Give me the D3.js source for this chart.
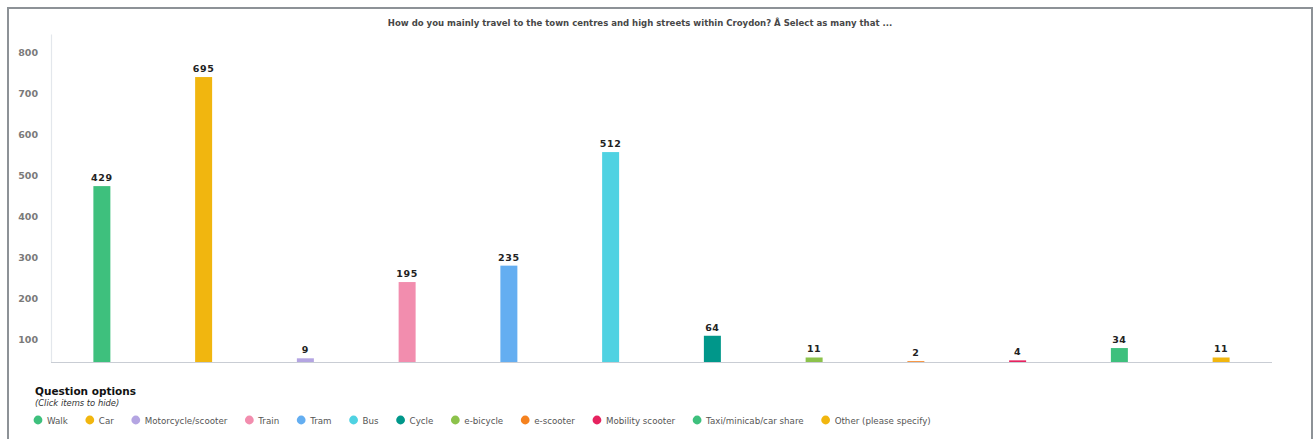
<!DOCTYPE html>
<html><head><meta charset="utf-8">
<script src="https://cdn.jsdelivr.net/npm/d3@7"></script>
<style>body{margin:0;background:#fff}svg{display:block}</style>
</head><body>
<svg id="chart" width="1316" height="439"></svg>
<script>
const categories = ["Walk","Car","Motorcycle/scooter","Train","Tram","Bus","Cycle","e-bicycle","e-scooter","Mobility scooter","Taxi/minicab/car share","Other (please specify)"];
const values = [429,695,9,195,235,512,64,11,2,4,34,11];
const colors = ["#3ec07d","#f1b60f","#b4a5e2","#f28dae","#64aef1","#4fd2e2","#00978a","#8cc24b","#f5821f","#e6235f","#3ec07d","#f1b60f"];
const yTicks = [100,200,300,400,500,600,700,800];
const titleText = "How do you mainly travel to the town centres and high streets within Croydon? \u00C2 Select as many that ...";
const legendTitle = "Question options";
const legendSubtitle = "(Click items to hide)";
// the reference's axis labels sit offset from the bar baseline
const axisOffset = 44;

const svg = d3.select("#chart");
const W = 1316, H = 439;
const plot = {left: 51, right: 1272, top: 34, bottom: 362};

// frame
svg.append("path")
  .attr("d", `M8,${H} L8,8 L1312,8 L1312,${H}`)
  .attr("fill","none").attr("stroke","#8d9297").attr("stroke-width",2);

// title
const title = svg.append("text")
  .attr("x", 640).attr("y", 26).attr("text-anchor","middle")
  .attr("font-family","'DejaVu Sans Condensed','DejaVu Sans',sans-serif")
  .attr("font-weight","bold").attr("font-size",10).attr("fill","#474747")
  .text(titleText);
const tl = title.node().getComputedTextLength();
title.attr("font-size", 10 * 505 / tl);

const x = d3.scaleBand().domain(categories).range([plot.left, plot.right]).paddingInner(0.833).paddingOuter(0.4165);
const y = d3.scaleLinear().domain([0, 800]).range([plot.bottom, plot.top]);
const yAxisScale = d3.scaleLinear().domain([axisOffset, 800 + axisOffset]).range([plot.bottom, plot.top]);

// y axis
const gy = svg.append("g").attr("transform", `translate(${plot.left},0)`)
  .call(d3.axisLeft(yAxisScale).tickValues(yTicks).tickSize(0).tickPadding(13));
gy.select(".domain").attr("stroke","#e3e7ec").attr("stroke-width",1.2);
gy.selectAll("text").attr("font-family","'DejaVu Sans',sans-serif").attr("font-weight","bold")
  .attr("font-size",9.5).attr("fill","#7a7a7a");

// baseline
svg.append("line").attr("x1",plot.left).attr("x2",plot.right)
  .attr("y1",plot.bottom+0.5).attr("y2",plot.bottom+0.5)
  .attr("stroke","#c9cdd4").attr("stroke-width",1.2);

const data = categories.map((c,i)=>({c, v: values[i], col: colors[i]}));

svg.append("g").selectAll("rect").data(data).join("rect")
  .attr("x", d=>x(d.c)).attr("width", x.bandwidth())
  .attr("y", d=>y(d.v)).attr("height", d=>y(0)-y(d.v))
  .attr("fill", d=>d.col);

svg.append("g").selectAll("text").data(data).join("text")
  .attr("x", d=>x(d.c)+x.bandwidth()/2).attr("y", d=>y(d.v)-5)
  .attr("text-anchor","middle")
  .attr("font-family","'DejaVu Sans',sans-serif").attr("font-weight","bold")
  .attr("font-size",9.5).attr("letter-spacing",0.6).attr("fill","#222")
  .text(d=>d.v);

// legend
svg.append("text").attr("x",35).attr("y",395)
  .attr("font-family","'DejaVu Sans',sans-serif").attr("font-weight","bold")
  .attr("font-size",10.5).attr("fill","#111").text(legendTitle);
svg.append("text").attr("x",35).attr("y",406)
  .attr("font-family","'DejaVu Sans',sans-serif").attr("font-style","italic")
  .attr("font-size",8.4).attr("fill","#333").text(legendSubtitle);

const lg = svg.append("g");
let cx = 38;
data.forEach(d=>{
  const g = lg.append("g");
  g.append("circle").attr("cx",cx).attr("cy",420).attr("r",4.4).attr("fill",d.col);
  const t = g.append("text").attr("x",cx+9).attr("y",423.5)
    .attr("font-family","'DejaVu Sans',sans-serif").attr("font-size",8.7).attr("fill","#555")
    .text(d.c);
  cx = cx + 9 + t.node().getComputedTextLength() + 22;
});
</script>
</body></html>
